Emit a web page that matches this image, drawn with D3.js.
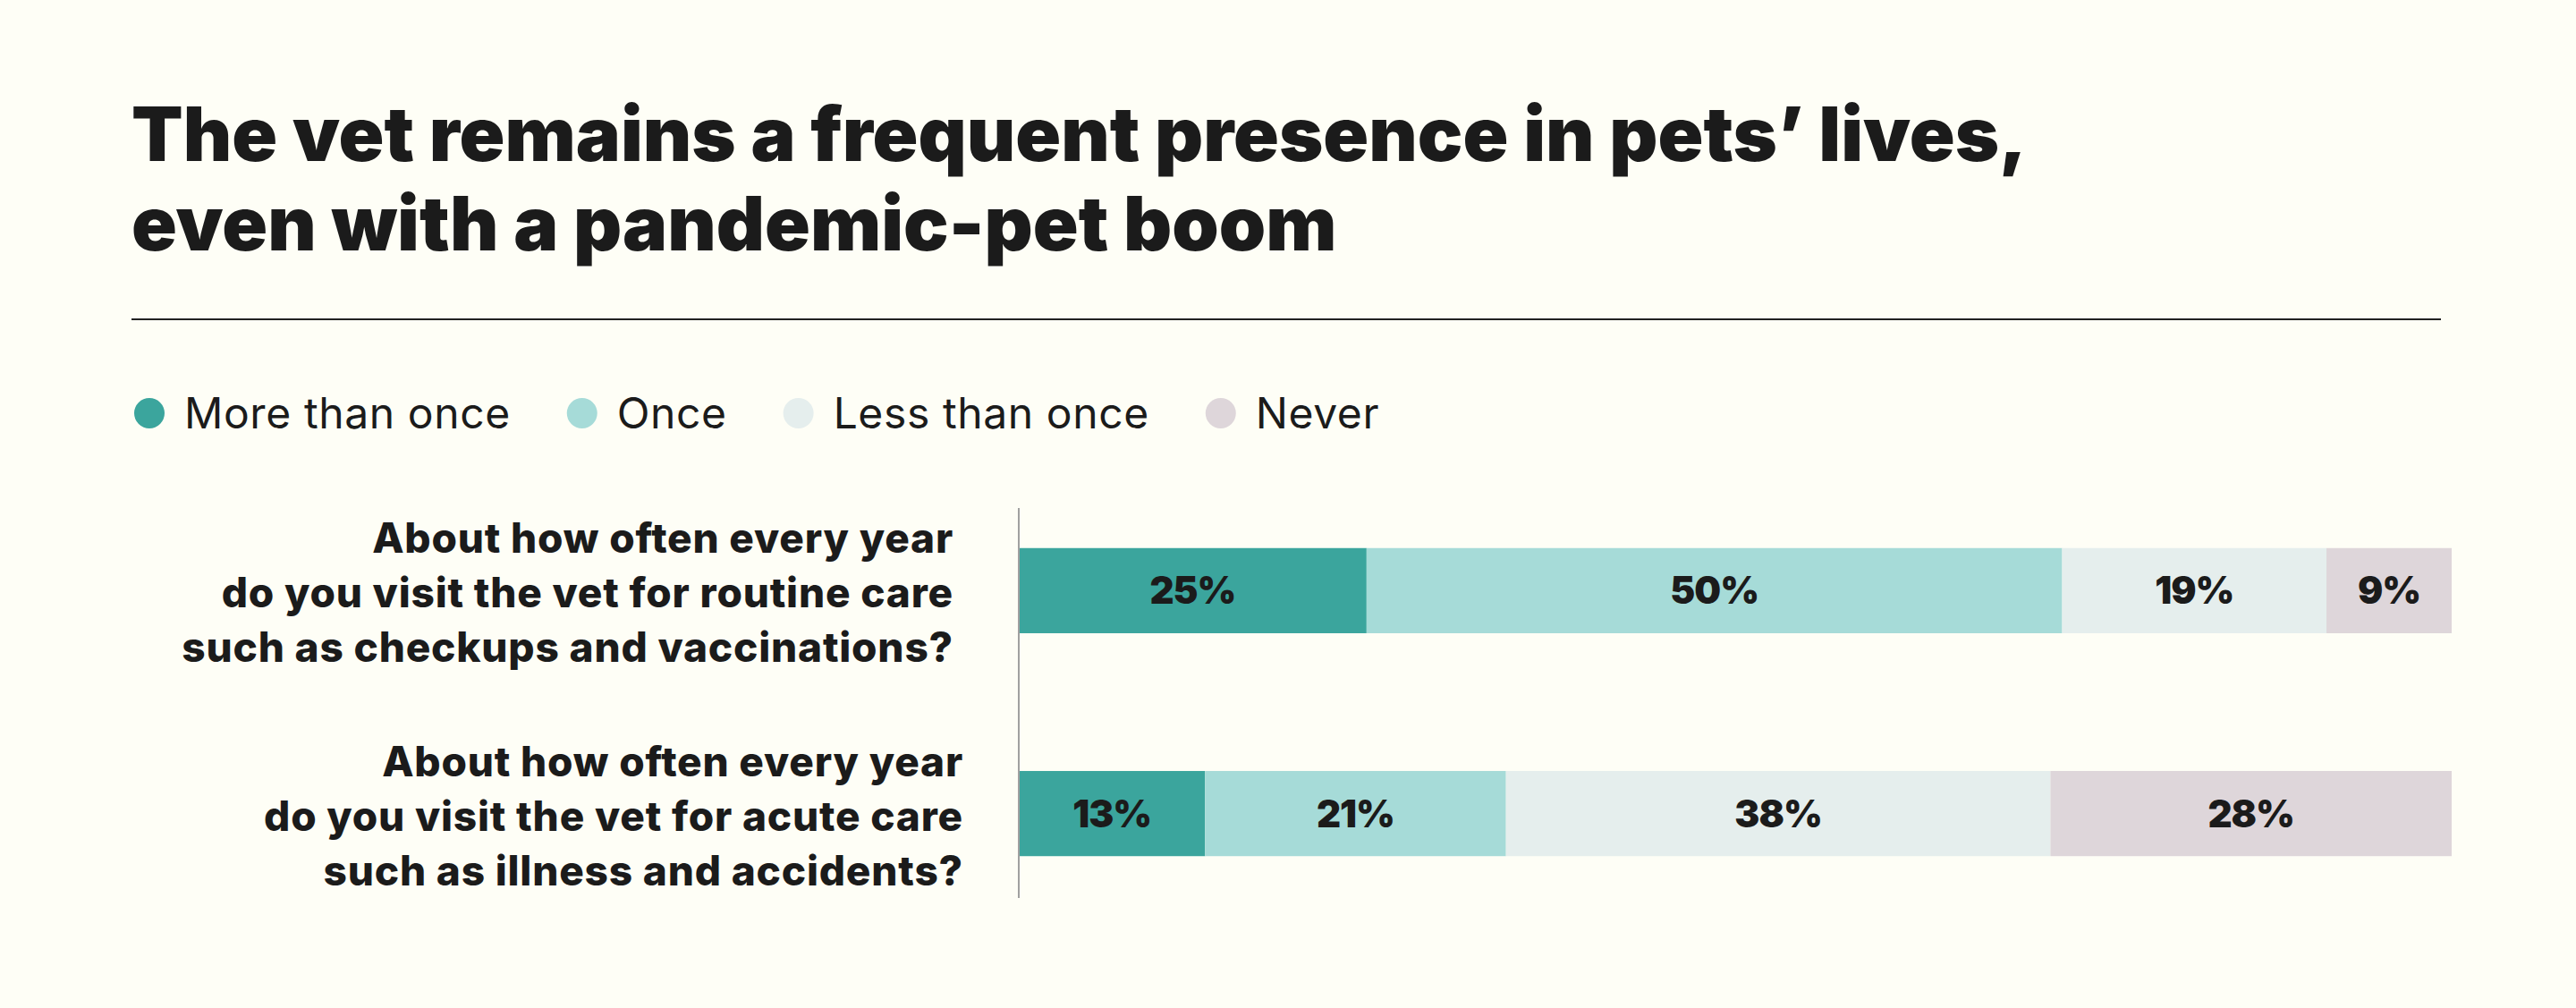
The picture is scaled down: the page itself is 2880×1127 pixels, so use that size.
<!DOCTYPE html>
<html>
<head>
<meta charset="utf-8">
<script src="https://cdn.jsdelivr.net/npm/d3@7"></script>
<style>
  html, body { margin: 0; padding: 0; background: #fefef6; }
  svg { display: block; }
</style>
</head>
<body>
<div id="chart"></div>
<script>
// --- Data ---
const titleLines = ["The vet remains a frequent presence in pets\u2019 lives,", "even with a pandemic-pet boom"];
const categories = ["More than once", "Once", "Less than once", "Never"];
const colors = ["#3ba59d", "#a6dbd8", "#e5eeed", "#ded6da"];
const questions = ["routine", "acute"];
const questionLines = [
  ["About how often every year", "do you visit the vet for routine care", "such as checkups and vaccinations?"],
  ["About how often every year", "do you visit the vet for acute care", "such as illness and accidents?"]
];
const moreThanOnce = [25, 13];
const once = [50, 21];
const lessThanOnce = [19, 38];
const never = [9, 28];

document.addEventListener("DOMContentLoaded", function() {
  const W = 2880, H = 1127;
  const font = "Inter, 'Noto Sans', sans-serif";
  const svg = d3.select("#chart").append("svg")
      .attr("width", W)
      .attr("height", H);

  svg.append("rect").attr("width", W).attr("height", H).attr("fill", "#fefef6");

  // --- Title ---
  svg.append("g")
      .selectAll("text")
      .data(titleLines)
      .join("text")
      .attr("x", 147)
      .attr("y", (d, i) => 180 + i * 100)
      .attr("font-family", font)
      .attr("font-weight", 900)
      .attr("font-size", 84)
      .attr("fill", "#1b1b1b")
      .text(d => d);

  svg.append("line")
      .attr("x1", 147).attr("x2", 2729)
      .attr("y1", 357).attr("y2", 357)
      .attr("stroke", "#222").attr("stroke-width", 2);

  // --- Legend ---
  const legend = svg.append("g").attr("transform", "translate(167,462)");
  let lx = 0;
  categories.forEach((c, i) => {
    const g = legend.append("g").attr("transform", `translate(${lx},0)`);
    g.append("circle").attr("r", 17).attr("fill", colors[i]);
    const t = g.append("text")
        .attr("x", 39)
        .attr("dy", "0.36em")
        .attr("font-family", font)
        .attr("font-size", 48)
        .attr("letter-spacing", 0.6)
        .attr("fill", "#1b1b1b")
        .text(c);
    lx += 39 + t.node().getComputedTextLength() + 80;
  });

  // --- Bars ---
  const rows = questions.map((q, i) => ({
    q: q,
    "More than once": moreThanOnce[i],
    "Once": once[i],
    "Less than once": lessThanOnce[i],
    "Never": never[i]
  }));

  // each row is normalised to the full bar width (row 1 sums to 103)
  const series = d3.stack()
      .keys(categories)
      .offset(d3.stackOffsetExpand)(rows);

  const x = d3.scaleLinear().domain([0, 1]).range([1139, 2741]);
  const y = d3.scaleBand()
      .domain(questions)
      .range([538, 1032])
      .paddingInner(0.618)
      .paddingOuter(0.3);

  const color = d3.scaleOrdinal().domain(categories).range(colors);

  const layer = svg.append("g")
      .selectAll("g")
      .data(series)
      .join("g")
      .attr("fill", d => color(d.key));

  layer.selectAll("rect")
      .data(d => d.map(v => Object.assign(v, { key: d.key })))
      .join("rect")
      .attr("x", d => x(d[0]))
      .attr("y", d => y(d.data.q))
      .attr("width", d => x(d[1]) - x(d[0]))
      .attr("height", y.bandwidth());

  layer.selectAll("text")
      .data(d => d)
      .join("text")
      .attr("x", d => (x(d[0]) + x(d[1])) / 2)
      .attr("y", d => y(d.data.q) + y.bandwidth() / 2)
      .attr("dy", "0.36em")
      .attr("text-anchor", "middle")
      .attr("font-family", font)
      .attr("font-weight", 900)
      .attr("font-size", 42)
      .attr("letter-spacing", -1)
      .attr("fill", "#1b1b1b")
      .text(d => d.data[d.key] + "%");

  // axis line
  svg.append("line")
      .attr("x1", x(0)).attr("x2", x(0))
      .attr("y1", 568).attr("y2", 1004)
      .attr("stroke", "#a0a0a0").attr("stroke-width", 2);

  // --- Row labels ---
  const labelX = [1066, 1077];
  questions.forEach((q, i) => {
    const cy = y(q) + y.bandwidth() / 2;
    svg.append("g")
        .selectAll("text")
        .data(questionLines[i])
        .join("text")
        .attr("x", labelX[i])
        .attr("y", (d, j) => cy + 19 + (j - 1) * 61)
        .attr("text-anchor", "end")
        .attr("font-family", font)
        .attr("font-weight", 800)
        .attr("font-size", 46)
        .attr("letter-spacing", 0.8)
        .attr("fill", "#1b1b1b")
        .text(d => d);
  });
});
</script>
</body>
</html>
